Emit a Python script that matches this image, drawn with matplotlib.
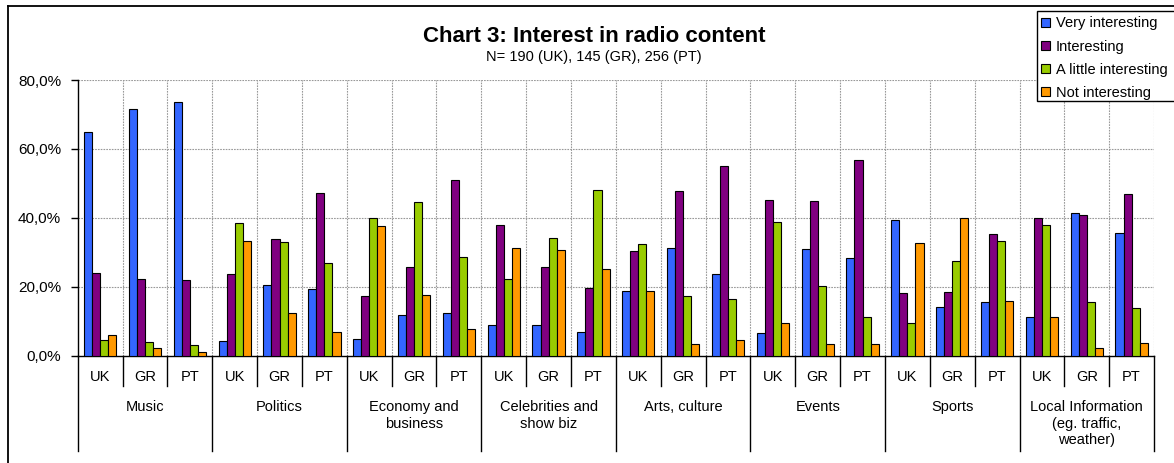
import matplotlib.pyplot as plt
from matplotlib.lines import Line2D
from matplotlib.patches import Patch, Rectangle
import numpy as np

plt.rcParams['font.family'] = ['Liberation Sans', 'DejaVu Sans']

# survey topics, each answered by three countries
topics = ['Music', 'Politics', 'Economy and\nbusiness', 'Celebrities and\nshow biz',
          'Arts, culture', 'Events', 'Sports', 'Local Information\n(eg. traffic,\nweather)']
countries = ['UK', 'GR', 'PT']
series_names = ['Very interesting', 'Interesting', 'A little interesting', 'Not interesting']
colors = ['#3366FF', '#800080', '#99CC00', '#FF9900']

# % of respondents, order: topic by topic, UK / GR / PT
very = [65.0, 71.5, 73.7, 4.3, 20.5, 19.3, 4.9, 11.8, 12.4, 9.0, 9.0, 6.8,
        18.7, 31.2, 23.6, 6.5, 30.9, 28.4, 39.3, 14.0, 15.5, 11.1, 41.5, 35.6]
interesting = [24.0, 22.2, 21.9, 23.7, 33.8, 47.1, 17.4, 25.6, 50.9, 37.8, 25.8, 19.5,
               30.3, 47.7, 54.9, 45.3, 44.9, 56.9, 18.1, 18.4, 35.3, 40.0, 40.8, 46.8]
little = [4.5, 4.0, 3.0, 38.4, 33.1, 26.8, 40.0, 44.6, 28.6, 22.2, 34.2, 48.1,
          32.5, 17.4, 16.5, 38.7, 20.2, 11.1, 9.6, 27.4, 33.4, 37.8, 15.5, 13.7]
not_int = [5.9, 2.1, 1.2, 33.4, 12.4, 6.8, 37.5, 17.7, 7.7, 31.2, 30.6, 25.2,
           18.7, 3.3, 4.6, 9.6, 3.3, 3.3, 32.8, 40.0, 15.9, 11.1, 2.1, 3.7]

W, H = 1174, 463
fig = plt.figure(figsize=(W / 100, H / 100), dpi=100)
ax = fig.add_axes([0.0662, 0.2318, 0.9168, 0.5954])

n = len(very)
x = np.arange(n) + 0.5
w = 0.18
for k, vals in enumerate([very, interesting, little, not_int]):
    ax.bar(x + (k - 1.5) * w, vals, width=w, color=colors[k],
           edgecolor='black', linewidth=0.8, zorder=3, label=series_names[k])

ax.set_xlim(0, n)
ax.set_ylim(0, 80)
ax.set_yticks([0, 20, 40, 60, 80])
ax.set_yticklabels([f'{v:.1f}%'.replace('.', ',') for v in [0, 20, 40, 60, 80]], fontsize=11)
ax.tick_params(axis='y', length=5, width=1, pad=7)
ax.set_xticks([])
for s in ['top', 'right']:
    ax.spines[s].set_visible(False)
ax.spines['left'].set_linewidth(1)
ax.spines['bottom'].set_linewidth(1)

# grid
grid_kw = dict(color='#999999', linewidth=0.8, linestyle=(0, (1.5, 1)), zorder=1)
for yv in [20, 40, 60, 80]:
    ax.axhline(yv, **grid_kw)
for xv in range(1, n + 1):
    ax.axvline(xv, **grid_kw)

# category axis: country labels, topic labels and separators
tr = ax.get_xaxis_transform()
for i in range(n):
    ax.text(x[i], -0.077, countries[i % 3], transform=tr, ha='center', va='center', fontsize=10.5)
    if i % 3 != 0:
        ax.plot([i, i], [0, -0.11], transform=tr, color='black', lw=1, clip_on=False)
for g in range(len(topics) + 1):
    ax.plot([3 * g, 3 * g], [0, -0.346], transform=tr, color='black', lw=1, clip_on=False)
for g, name in enumerate(topics):
    ax.text(3 * g + 1.5, -0.16, name, transform=tr, ha='center', va='top',
            fontsize=10.5, linespacing=1.25)

fig.text(594 / W, 1 - 36 / H, 'Chart 3: Interest in radio content', ha='center', va='center',
         fontsize=16, fontweight='bold')
fig.text(594 / W, 1 - 57 / H, 'N= 190 (UK), 145 (GR), 256 (PT)', ha='center', va='center',
         fontsize=10.5)

# legend, its box runs past the right edge
handles = [Patch(facecolor=c, edgecolor='black', linewidth=0.8) for c in colors]
fig.legend(handles, series_names, loc='upper left',
           bbox_to_anchor=(1040 / W, 1 - 15 / H), fontsize=10.5,
           frameon=False, borderaxespad=0,
           handlelength=0.6, handleheight=0.6, handletextpad=0.4,
           labelspacing=0.62, borderpad=0.1)
fig.add_artist(Rectangle((1037 / W, 1 - 101 / H), 200 / W, 90.5 / H,
                         transform=fig.transFigure, facecolor='white',
                         edgecolor='black', lw=1, zorder=0.5))

# outer chart frame
fig.add_artist(Line2D([7.5 / W, 7.5 / W], [0, 1 - 5.5 / H], color='black', lw=1.3))
fig.add_artist(Line2D([7.5 / W, 1], [1 - 5.5 / H, 1 - 5.5 / H], color='black', lw=1.3))

fig.savefig('out.png', dpi=100)
